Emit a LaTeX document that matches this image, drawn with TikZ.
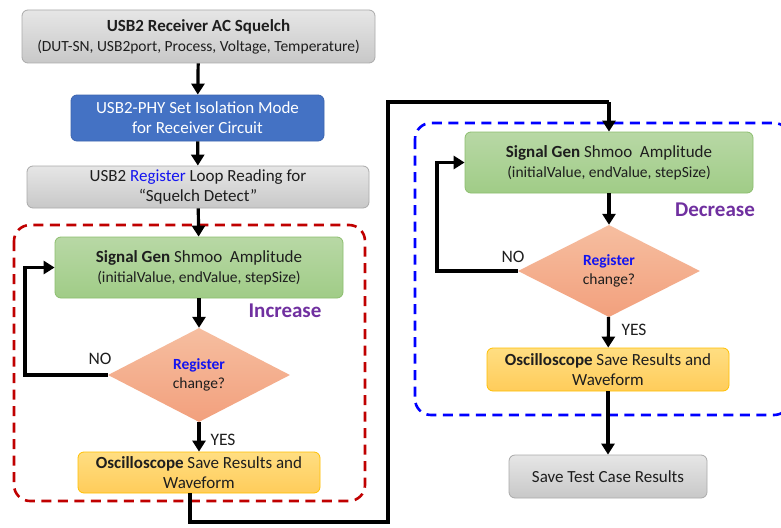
\documentclass[tikz,border=0pt]{standalone}
\usepackage{fontspec}
\setmainfont{Carlito}
\usetikzlibrary{shapes.geometric,arrows.meta}
\definecolor{grayfillA}{RGB}{230,230,230}
\definecolor{grayfillB}{RGB}{200,200,200}
\definecolor{grayline}{RGB}{170,170,170}
\definecolor{bluebox}{RGB}{68,114,196}
\definecolor{bluebord}{RGB}{60,100,175}
\definecolor{greenA}{RGB}{184,216,165}
\definecolor{greenB}{RGB}{160,204,135}
\definecolor{greenline}{RGB}{140,190,110}
\definecolor{orangeA}{RGB}{246,190,160}
\definecolor{orangeB}{RGB}{242,160,125}
\definecolor{yellowA}{RGB}{255,222,130}
\definecolor{yellowB}{RGB}{255,204,90}
\definecolor{yellowline}{RGB}{255,192,0}
\definecolor{redd}{RGB}{192,0,0}
\definecolor{purp}{RGB}{112,48,160}
\definecolor{regblue}{RGB}{20,20,240}
\definecolor{txt}{RGB}{30,30,30}
\tikzset{
  x=1pt, y=-1pt,
  base/.style={rounded corners=6pt, align=center, inner sep=0pt, text=txt, line width=0.8pt,
    font=\fontsize{17}{20}\selectfont},
  graybox/.style={base, draw=grayline, top color=grayfillA, bottom color=grayfillB},
  bluenode/.style={base, draw=bluebord, fill=bluebox, text=white},
  greenbox/.style={base, draw=greenline, top color=greenA, bottom color=greenB},
  yellowbox/.style={base, draw=yellowline, top color=yellowA, bottom color=yellowB},
  decision/.style={diamond, draw=none, top color=orangeA, bottom color=orangeB, inner sep=0pt,
    align=center, text=txt, font=\fontsize{15.5}{19}\selectfont},
  flow/.style={line width=3.2pt, -{Triangle[width=13pt,length=11pt]}},
  plainline/.style={line width=3.2pt},
  lbl/.style={font=\fontsize{17.5}{20}\selectfont, text=txt},
  grouplbl/.style={font=\bfseries\fontsize{21}{24}\selectfont, text=purp},
  reddash/.style={draw=redd, line width=2.6pt, dash pattern=on 10pt off 6.5pt, rounded corners=16pt},
  bluedash/.style={draw=blue, line width=2.6pt, dash pattern=on 10pt off 6.5pt, rounded corners=16pt},
  subtext/.style={font=\fontsize{15.5}{19}\selectfont},
}
\begin{document}
\begin{tikzpicture}
\useasboundingbox (0,0) rectangle (781,527);
\clip (0,0) rectangle (781,527);
\fill[white] (0,0) rectangle (781,527);

% dashed groups
\draw[reddash] (14,225) rectangle (365,501);
\draw[bluedash] (415,123) rectangle (790,415);

% left column
\node[graybox, minimum width=353pt, minimum height=53pt] (b1) at (198.5,36.5)
  {\textbf{USB2 Receiver AC Squelch}\\{\fontsize{15.5}{19}\selectfont(DUT-SN, USB2port, Process, Voltage, Temperature)}};
\node[bluenode, minimum width=253pt, minimum height=46pt] (b2) at (197.5,118)
  {USB2-PHY Set Isolation Mode\\for Receiver Circuit};
\node[graybox, minimum width=342pt, minimum height=42pt] (b3) at (198,187)
  {USB2 \textcolor{regblue}{Register} Loop Reading for\\“Squelch Detect”};
\node[greenbox, minimum width=288pt, minimum height=61pt] (g1) at (199,267.5)
  {\textbf{Signal Gen} Shmoo\ \ Amplitude\\{\fontsize{15.5}{19}\selectfont(initialValue, endValue, stepSize)}};
\node[decision, minimum width=182pt, minimum height=94pt] (d1) at (199,375)
  {\textbf{\textcolor{regblue}{Register}}\\change?};
\node[yellowbox, minimum width=242pt, minimum height=41pt] (y1) at (199,472.5)
  {\textbf{Oscilloscope} Save Results and\\Waveform};
\node[grouplbl] (inc) at (285,311) {Increase};

% right column
\node[greenbox, minimum width=288pt, minimum height=61pt] (g2) at (609,162.5)
  {\textbf{Signal Gen} Shmoo\ \ Amplitude\\{\fontsize{15.5}{19}\selectfont(initialValue, endValue, stepSize)}};
\node[decision, minimum width=182pt, minimum height=92pt] (d2) at (609,271)
  {\textbf{\textcolor{regblue}{Register}}\\change?};
\node[yellowbox, minimum width=242pt, minimum height=43pt] (y2) at (608,369.5)
  {\textbf{Oscilloscope} Save Results and\\Waveform};
\node[graybox, minimum width=198pt, minimum height=43pt] (fin) at (608,476.5)
  {Save Test Case Results};
\node[grouplbl] (dec) at (715,210) {Decrease};

% coordinates for routing
\coordinate (l1) at (25,375);
\coordinate (l2) at (437,271);
\coordinate (c1) at (190,522);
\coordinate (c2) at (388,522);
\coordinate (c3) at (388,102);
\coordinate (c4) at (609,102);

% connectors
\draw[flow] (b1) -- (b2);
\draw[flow] (b2) -- (b3);
\draw[flow] (b3) -- (g1);
\draw[flow] (g1) -- (d1);
\draw[flow] (d1) -- (y1);
\draw[flow] (d1.west) -- (l1) |- (g1.west);
\draw[plainline, line join=miter] (y1.south -| c1) -- (c1) -- (c2) -- (c3) -- (c4);
\draw[flow] (c4) -- (g2.north);
\draw[flow] (g2) -- (d2);
\draw[flow] (d2) -- (y2);
\draw[flow] (d2.west) -- (l2) |- (g2.west);
\draw[flow] (y2) -- (fin);

% labels
\node[lbl] (no1) at (100,359) {NO};
\node[lbl] (yes1) at (223,440) {YES};
\node[lbl] (no2) at (513,257) {NO};
\node[lbl] (yes2) at (634,330) {YES};
\end{tikzpicture}
\end{document}
